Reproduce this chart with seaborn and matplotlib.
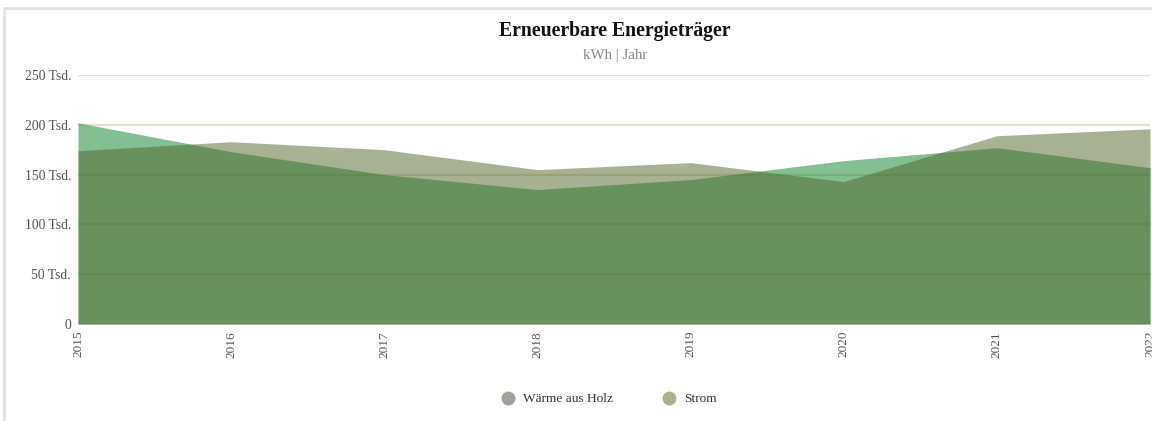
import matplotlib
matplotlib.use("Agg")
import matplotlib.pyplot as plt
from matplotlib.lines import Line2D
from matplotlib.patches import Rectangle
import seaborn as sns
import pandas as pd
import numpy as np

years = [2015, 2016, 2017, 2018, 2019, 2020, 2021, 2022]
waerme_holz = [202, 173, 150, 135, 145, 164, 177, 157]   # Tsd. kWh
strom = [174, 183, 175, 155, 162, 143, 189, 196]          # Tsd. kWh
series_names = ["Wärme aus Holz", "Strom"]
yticks = [0, 50, 100, 150, 200, 250]
ytick_labels = ["0", "50 Tsd.", "100 Tsd.", "150 Tsd.", "200 Tsd.", "250 Tsd."]

fill_colors = ["#098127", "#516529"]
legend_colors = ["#a0a39a", "#a6b590"]

sns.set_theme(style="white")
plt.rcParams["font.family"] = ["Liberation Serif", "DejaVu Serif"]

df = pd.DataFrame({"Jahr": years, series_names[0]: waerme_holz, series_names[1]: strom})
long = df.melt(id_vars="Jahr", var_name="Serie", value_name="Wert")

fig = plt.figure(figsize=(11.52, 4.21), dpi=100)
ax = fig.add_axes([78 / 1152, 1 - 324 / 421, (1150 - 78) / 1152, (324 - 75) / 421])

# grid below areas
for t in yticks[1:]:
    ax.axhline(t, color="#e4dfcf", lw=1.6, zorder=0)
ax.axhline(0, color="#e4dfcf", lw=1.6, zorder=0)

for name, col in zip(series_names, fill_colors):
    sub = long[long["Serie"] == name]
    ax.fill_between(sub["Jahr"], 0, sub["Wert"], color=col, alpha=0.5, lw=0, zorder=1)
sns.lineplot(data=long, x="Jahr", y="Wert", hue="Serie", palette=fill_colors,
             lw=0, legend=False, ax=ax)

ax.set_xlim(2015, 2022)
ax.set_ylim(0, 250)
ax.set_yticks(yticks)
ax.set_yticklabels(ytick_labels)
ax.set_xticks(years)
ax.set_xticklabels([str(y) for y in years], rotation=90)
ax.tick_params(axis="y", labelsize=9.8, colors="#555555", length=0, pad=5)
ax.tick_params(axis="x", labelsize=9.5, colors="#555555", length=0, pad=5)
for lab in ax.get_xticklabels() + ax.get_yticklabels():
    lab.set_color("#555555")
ax.set_xlabel("")
ax.set_ylabel("")
for s in ax.spines.values():
    s.set_visible(False)

fig.text(615 / 1152, 1 - 31 / 421, "Erneuerbare Energieträger", ha="center", va="center",
         fontsize=14.2, fontweight="bold", color="#111111")
fig.text(615 / 1152, 1 - 55 / 421, "kWh | Jahr", ha="center", va="center",
         fontsize=10.8, color="#888888")

handles = [Line2D([], [], marker="o", ls="", markersize=10, color=c, markeredgewidth=0)
           for c in legend_colors]
fig.legend(handles, series_names, loc="center", bbox_to_anchor=(606 / 1152, 1 - 399 / 421),
           ncol=2, frameon=False, fontsize=9.6, columnspacing=3.2, handletextpad=0.15,
           labelcolor="#333333")

fig.patches.append(Rectangle((4 / 1152, -0.05), 1.2, 1 - 8 / 421 + 0.05, transform=fig.transFigure,
                             fill=False, edgecolor="#e2e2de", lw=2, zorder=-1))

fig.savefig("out.png", dpi=100)
